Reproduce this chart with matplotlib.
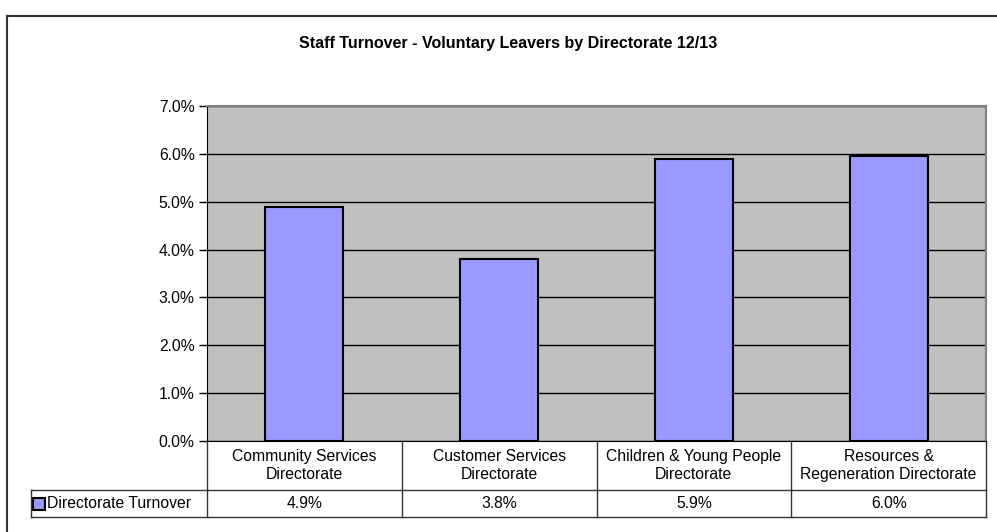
import matplotlib
matplotlib.use("Agg")
import matplotlib.pyplot as plt
from matplotlib.transforms import blended_transform_factory
from matplotlib.patches import Rectangle
from matplotlib.lines import Line2D

plt.rcParams['font.family'] = ['Liberation Sans', 'DejaVu Sans']

title = "Staff Turnover - Voluntary Leavers by Directorate 12/13"
categories = ["Community Services\nDirectorate", "Customer Services\nDirectorate",
              "Children & Young People\nDirectorate", "Resources &\nRegeneration Directorate"]
series_name = "Directorate Turnover"
values = [0.0489, 0.0380, 0.0589, 0.0596]
yticks = [0.0, 0.01, 0.02, 0.03, 0.04, 0.05, 0.06, 0.07]

W, H = 997, 532
FS = 11.3
fig = plt.figure(figsize=(W / 100, H / 100), dpi=100)
fig.patch.set_facecolor('white')

# outer chart border (top and left visible)
fig.add_artist(Line2D([7 / W, 7 / W], [0, 1 - 16 / H], transform=fig.transFigure,
                      color='#333333', lw=1.5))
fig.add_artist(Line2D([7 / W, 1.0], [1 - 16 / H, 1 - 16 / H], transform=fig.transFigure,
                      color='#333333', lw=1.5))

left, right, top, bottom = 207, 986, 106, 441
ax = fig.add_axes([left / W, 1 - bottom / H, (right - left) / W, (bottom - top) / H])
ax.set_facecolor('#C0C0C0')

x = list(range(len(categories)))
ax.bar(x, values, width=0.4, color='#9999FF', edgecolor='black', linewidth=1.5, zorder=3)
ax.set_xlim(-0.5, len(categories) - 0.5)
ax.set_ylim(0, 0.07)
ax.set_yticks(yticks)
ax.set_yticklabels([f"{v*100:.1f}%" for v in yticks], fontsize=FS)
ax.yaxis.grid(True, color='black', lw=1, zorder=1)
ax.set_axisbelow(True)
ax.tick_params(axis='y', length=6, width=1, color='black', pad=3)
ax.tick_params(axis='x', length=0, labelbottom=False)
for s in ['top', 'right']:
    ax.spines[s].set_color('#808080')
    ax.spines[s].set_linewidth(1.5)
ax.spines['left'].set_color('black')
ax.spines['bottom'].set_color('black')

fig.text(508 / W, 1 - 44 / H, title, ha='center', va='center', fontsize=11.5, fontweight='bold')

# data table below the plot area
tr = blended_transform_factory(ax.transData, ax.transAxes)
ph = bottom - top
y1 = -(490 - bottom) / ph
y2 = -(517 - bottom) / ph
catw = (right - left) / len(categories)
xleg = -0.5 - (left - 31) / catw
xr = len(categories) - 0.5
lc = '#333333'
lines = [
    ([xleg, xr], [y1, y1]),
    ([xleg, xr], [y2, y2]),
    ([xleg, xleg], [y1, y2]),
    ([xr, xr], [0, y2]),
]
for i in range(len(categories)):
    lines.append(([i - 0.5, i - 0.5], [0, y2]))
for xs, ys in lines:
    ax.add_line(Line2D(xs, ys, transform=tr, color=lc, lw=1, clip_on=False))

for i, (c, v) in enumerate(zip(categories, values)):
    ax.text(i, y1 / 2, c, transform=tr, ha='center', va='center', fontsize=FS,
            linespacing=1.3)
    ax.text(i, (y1 + y2) / 2, f"{v*100:.1f}%", transform=tr, ha='center', va='center',
            fontsize=FS)

# legend key
kw, kh = 12 / catw, 12 / ph
ax.add_patch(Rectangle((xleg + 2 / catw, (y1 + y2) / 2 - kh / 2), kw, kh, transform=tr,
                       facecolor='#9999FF', edgecolor='black', lw=1.5, clip_on=False))
ax.text(xleg + 16 / catw, (y1 + y2) / 2, series_name, transform=tr, ha='left', va='center',
        fontsize=FS)

fig.savefig("out.png", dpi=100)
